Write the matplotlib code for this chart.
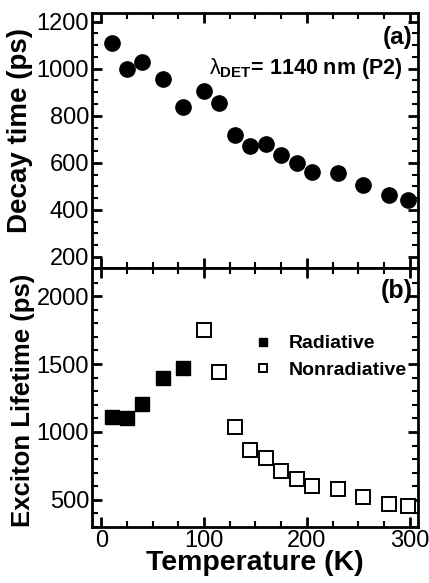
import matplotlib

matplotlib.use("Agg")
import matplotlib.pyplot as plt
from matplotlib.ticker import MultipleLocator

plt.rcParams["font.family"] = ["Liberation Sans", "DejaVu Sans"]
plt.rcParams["mathtext.fontset"] = "custom"
plt.rcParams["mathtext.rm"] = "Liberation Sans"
plt.rcParams["mathtext.bf"] = "Liberation Sans:bold"

# --------------------------------------------------------------- data

temp_a = [10, 25, 40, 60, 80, 100, 115, 130, 145, 160, 175, 190, 205, 230, 255, 280, 298]
decay = [1111, 999, 1029, 958, 838, 906, 855, 719, 671, 680, 634, 600, 563, 555, 504, 463, 441]

temp_rad = [10, 25, 40, 60, 80]
radiative = [1113, 1105, 1203, 1395, 1473]

temp_nonrad = [100, 115, 130, 145, 160, 175, 190, 205, 230, 255, 280, 298]
nonradiative = [1748, 1439, 1039, 868, 806, 716, 652, 603, 581, 520, 471, 456]

# --------------------------------------------------------------- figure

fig = plt.figure(figsize=(4.29, 5.83), dpi=100)
ax1 = fig.add_axes([0.2145, 0.540, 0.7595, 0.4377])
ax2 = fig.add_axes([0.2145, 0.096, 0.7595, 0.444], sharex=ax1)


def _style(ax):
    for s in ax.spines.values():
        s.set_linewidth(2)
    ax.tick_params(which="both", direction="in", top=True, right=True,
                   labelsize=17, pad=2)
    ax.tick_params(which="major", length=7, width=2)
    ax.tick_params(which="minor", length=4, width=1.5)
    ax.xaxis.set_major_locator(MultipleLocator(100))
    ax.xaxis.set_minor_locator(MultipleLocator(25))


# panel (a)
ax1.plot(temp_a, decay, "o", color="black", ms=11)
ax1.set_xlim(-9, 308)
ax1.set_ylim(152, 1237)
ax1.yaxis.set_major_locator(MultipleLocator(200))
ax1.yaxis.set_minor_locator(MultipleLocator(50))
_style(ax1)
plt.setp(ax1.get_xticklabels(), visible=False)
ax1.set_ylabel("Decay time (ps)", fontsize=20, fontweight="bold")
ax1.yaxis.set_label_coords(-0.18, 0.54)
ax1.text(0.985, 0.95, "(a)", transform=ax1.transAxes, ha="right", va="top",
         fontsize=17.5, fontweight="bold")
ax1.text(105, 976, r"$\mathrm{\lambda}_{\mathbf{DET}}$= 1140 nm (P2)", fontsize=15.5,
         fontweight="bold", ha="left", va="baseline")

# panel (b)
ax2.plot(temp_rad, radiative, "s", color="black", ms=10, label="Radiative")
ax2.plot(temp_nonrad, nonradiative, "s", mfc="white", mec="black", mew=1.4,
         ms=10, label="Nonradiative")
ax2.set_ylim(300, 2206)
ax2.yaxis.set_major_locator(MultipleLocator(500))
ax2.yaxis.set_minor_locator(MultipleLocator(100))
_style(ax2)
ax2.set_ylabel("Exciton Lifetime (ps)", fontsize=18.5, fontweight="bold")
ax2.yaxis.set_label_coords(-0.175, 0.49)
ax2.set_xlabel("Temperature (K)", fontsize=20.5, fontweight="bold", labelpad=-1)
ax2.text(0.985, 0.96, "(b)", transform=ax2.transAxes, ha="right", va="top",
         fontsize=18, fontweight="bold")
ax2.legend(loc="upper right", bbox_to_anchor=(1.02, 0.81), frameon=False,
           markerscale=0.6, handlelength=1.0, handletextpad=0.8,
           labelspacing=0.45, prop={"size": 14, "weight": "bold"})

fig.savefig("out.png", dpi=100)
plt.close(fig)
